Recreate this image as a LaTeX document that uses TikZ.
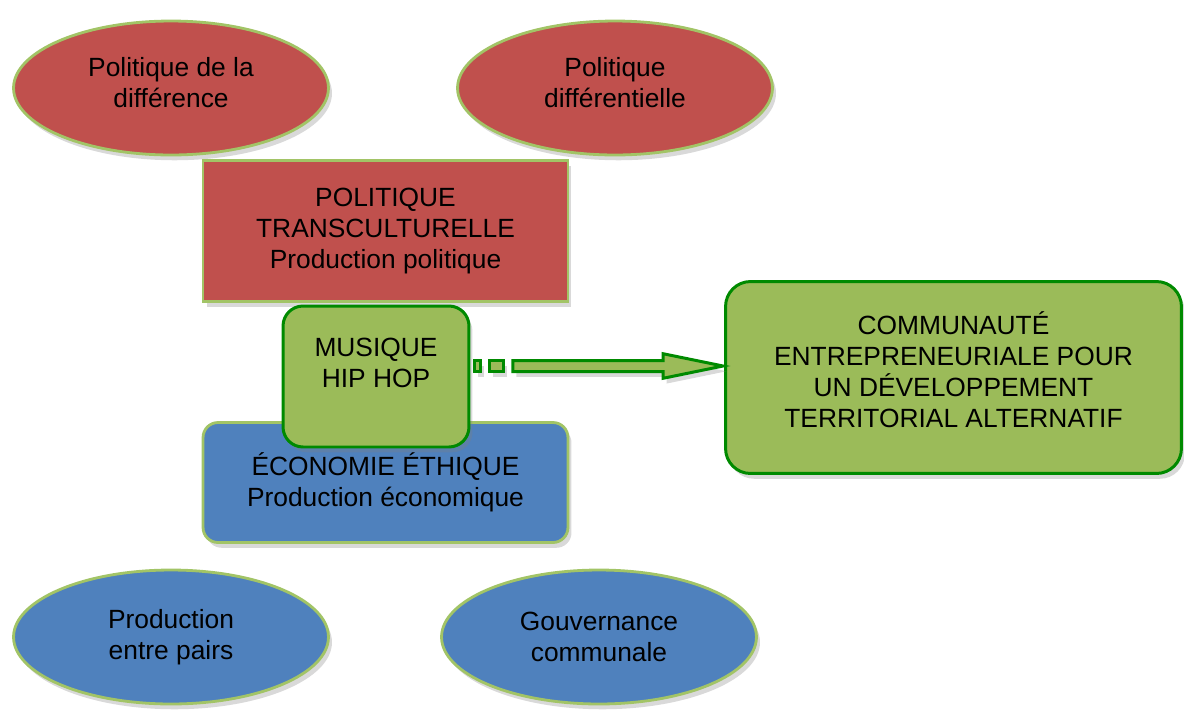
\documentclass[tikz,border=0pt]{standalone}
\usepackage{fontspec}
\setmainfont{Liberation Sans}
\usetikzlibrary{shapes.geometric,shadows,calc}
\definecolor{redfill}{HTML}{C0504D}
\definecolor{bluefill}{HTML}{4F81BD}
\definecolor{greenfill}{HTML}{9BBB59}
\definecolor{lightrim}{HTML}{A2C466}
\definecolor{darkrim}{HTML}{008A00}
\tikzset{
  every node/.style={align=center, inner sep=0pt, font=\fontsize{15}{17.6}\selectfont},
  shade/.style={drop shadow={opacity=0.3, shadow xshift=2pt, shadow yshift=-3pt}},
  oval/.style={ellipse, draw=lightrim, line width=1.6pt, minimum width=6.3cm, minimum height=2.68cm, shade},
  panel/.style={draw=lightrim, line width=1.6pt, minimum width=7.3cm, shade},
  greenbox/.style={draw=darkrim, fill=greenfill, line width=1.7pt, shade}
}
\begin{document}
\begin{tikzpicture}[x=0.02cm, y=-0.02cm]
\useasboundingbox (0,0) rectangle (1184,711);
				\node[oval, fill=redfill, text depth=6pt] (diff) at (171,88) {Politique de la\\différence};
				\node[oval, fill=redfill, text depth=6pt] (diffl) at (615,88) {Politique\\différentielle};
				\node[oval, fill=bluefill] (pairs) at (171,637) {Production\\entre pairs};
				\node[oval, fill=bluefill] (gouv) at (599,637) {Gouvernance\\communale};
				
				\node[panel, fill=redfill, minimum height=2.82cm] (pol) at (385.5,231) {POLITIQUE\\TRANSCULTURELLE\\Production politique};
				\node[panel, fill=bluefill, rounded corners=0.3cm, minimum height=2.4cm] (eco) at (385.5,482.5) {ÉCONOMIE ÉTHIQUE\\Production économique};
				
				\node[greenbox, rounded corners=0.4cm, minimum width=3.72cm, minimum height=2.82cm, text depth=16pt] (mus) at (376,376.5) {MUSIQUE\\HIP HOP};
				\node[greenbox, rounded corners=0.5cm, minimum width=9.12cm, minimum height=3.84cm, text depth=9pt] (com) at (953.5,377.5) {COMMUNAUTÉ\\ENTREPRENEURIALE POUR\\UN DÉVELOPPEMENT\\TERRITORIAL ALTERNATIF};
				
				\coordinate (tail) at ($(mus.east)+(0,-10.5)$);
				\coordinate (tip) at ($(com.west)+(0,-11.5)$);
				\draw[darkrim, fill=greenfill, line width=1.7pt, shade] ($(tail)+(4.5,-5.5)$) rectangle ($(tail)+(10.2,5.5)$);
				\draw[darkrim, fill=greenfill, line width=1.7pt, shade] ($(tail)+(19.2,-5.5)$) rectangle ($(tail)+(33.5,5.5)$);
				\draw[darkrim, fill=greenfill, line width=1.7pt, line join=miter, shade]
				  ($(tail)+(42.5,-5.5)$) -- ($(tip)+(-61,-5.5)$) -- ($(tip)+(-61,-12.3)$) -- ($(tip)+(-1,0)$)
				  -- ($(tip)+(-61,12.3)$) -- ($(tip)+(-61,5.5)$) -- ($(tail)+(42.5,5.5)$) -- cycle;
				\end{tikzpicture}
\end{document}
